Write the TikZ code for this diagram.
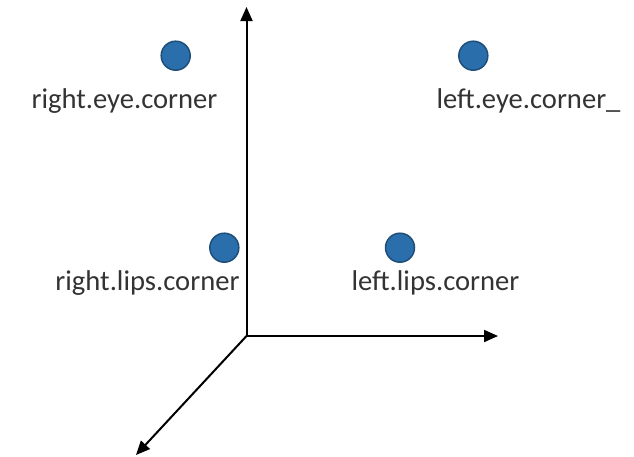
\documentclass[tikz,border=0pt]{standalone}
\usepackage{fontspec}
\setmainfont{Carlito}
\usetikzlibrary{arrows.meta}
\definecolor{dotfill}{HTML}{2A6FAC}
\definecolor{dotedge}{HTML}{1F4E79}
\begin{document}
\begin{tikzpicture}[x=1pt,y=-1pt,
  landmark/.style={circle,fill=dotfill,draw=dotedge,line width=1.5pt,minimum size=29pt,inner sep=0pt},
  tag/.style={anchor=base,font=\fontsize{28.6}{32}\selectfont,inner sep=0pt,text=black!80},
  axis/.style={line width=2pt,-{Triangle[length=14pt,width=12pt]}}]
\useasboundingbox (0,0) rectangle (634,456);
% axes
\coordinate (o) at (246.5,336);
\coordinate (up) at (246.5,7);
\coordinate (rt) at (498,336);
\coordinate (dg) at (136,455);
\draw[axis] (o) -- (up);
\draw[axis] (o) -- (rt);
\draw[axis] (o) -- (dg);
% landmark points
\node[landmark] (rec) at (175.7,55.7) {};
\node[landmark] (lec) at (473.3,55.7) {};
\node[landmark] (rlc) at (224.3,247.7) {};
\node[landmark] (llc) at (400,247.7) {};
% labels
\node[tag] (recl) at (124.5,108.5) {right.eye.corner};
\node[tag] (lecl) at (528.5,108.5) {left.eye.corner\_};
\node[tag] (rlcl) at (147.5,290.5) {right.lips.corner};
\node[tag] (llcl) at (435.5,290.5) {left.lips.corner};
\end{tikzpicture}
\end{document}
